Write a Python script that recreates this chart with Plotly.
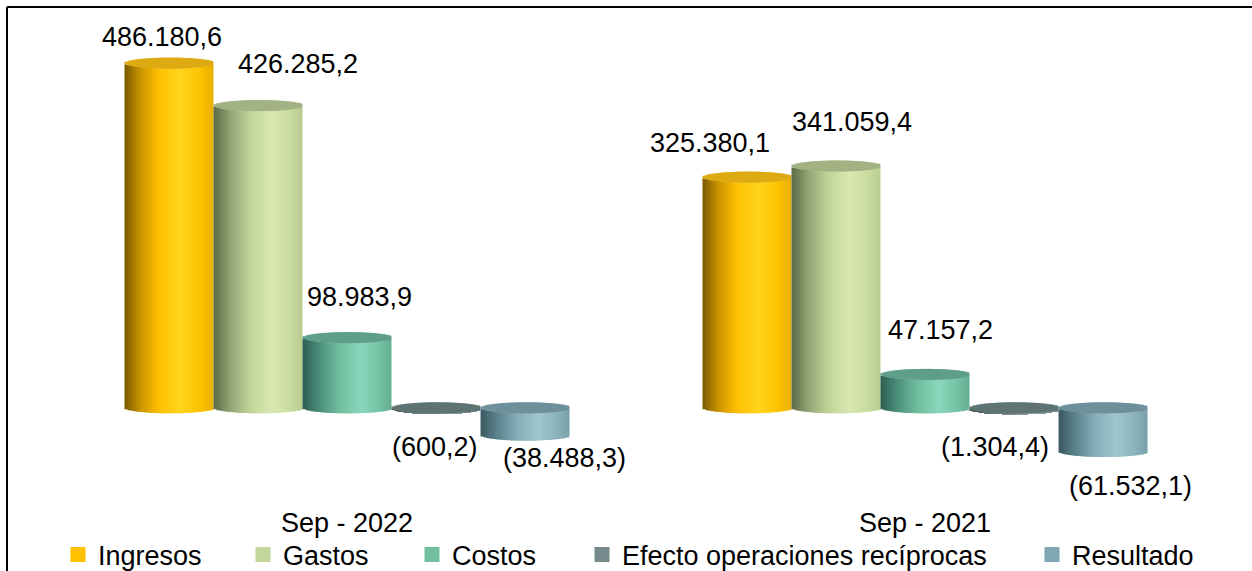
import plotly.graph_objects as go
import numpy as np

# ---------------- data ----------------
categories = ["Sep - 2022", "Sep - 2021"]
series_names = ["Ingresos", "Gastos", "Costos", "Efecto operaciones recíprocas", "Resultado"]
ingresos = [486180.6, 325380.1]
gastos = [426285.2, 341059.4]
costos = [98983.9, 47157.2]
efecto = [-600.2, -1304.4]
resultado = [-38488.3, -61532.1]
series_values = [ingresos, gastos, costos, efecto, resultado]

# ---------------- styling ----------------
W, H = 1252, 571
M_L, M_R, M_T, M_B = 58, 38, 20, 71
Y_RANGE = [-130000, 547000]
PLOT_W = W - M_L - M_R
PLOT_H = H - M_T - M_B
UNITS_PER_PX = (Y_RANGE[1] - Y_RANGE[0]) / PLOT_H
CAP = 5.5 * UNITS_PER_PX          # half height of the cylinder's elliptical top
BAR_W = 0.154                     # width of one cylinder in category units
K = 30                            # shading strips per cylinder
OVERLAP = 1.8                     # strip overlap factor to hide anti-alias seams
FONT = "Liberation Sans, Arial, sans-serif"
FS = 27

legend_colors = ["#FFC000", "#C4D79B", "#72BFA0", "#778A8B", "#7FA8B4"]
cap_colors = ["#DDAA12", "#A3B283", "#5E9E8A", "#5F7373", "#6E909A"]
body_stops = [
    [(0, "#7A5800"), (0.18, "#C99500"), (0.38, "#FFBE00"), (0.62, "#FFD51C"), (0.85, "#FBC400"), (1, "#EAAE00")],
    [(0, "#5C6A46"), (0.2, "#96A777"), (0.42, "#C2D59A"), (0.65, "#D8E8B0"), (0.85, "#CBDCA0"), (1, "#B9CB8E")],
    [(0, "#2E5C50"), (0.2, "#4D927E"), (0.42, "#72BE9F"), (0.65, "#8AD7BC"), (0.85, "#77C4A6"), (1, "#64AE92")],
    [(0, "#3F5050"), (0.3, "#6A7E7E"), (0.65, "#8AA0A0"), (1, "#70868A")],
    [(0, "#3C5760"), (0.2, "#5D8590"), (0.42, "#87AFB9"), (0.65, "#9FC6CF"), (0.85, "#8CB4BD"), (1, "#78A0AA")],
]
# label offsets (px) from each bar's value point: (dx from group centre, dy up)
label_shift = [
    [(-185.5, 26), (-215.5, 34)],
    [(-49.5, 41.5), (-73.5, 44)],
    [(12, 41), (15.5, 44.6)],
    [(88, -38.5), (69.5, -38)],
    [(217, -22.7), (205.5, -34.4)],
]
legend_left_px = [58, 243, 412, 582, 1032]
LEGEND_Y_PX = 555


def hex_to_rgb(h):
    h = h.lstrip("#")
    return np.array([int(h[i:i + 2], 16) for i in (0, 2, 4)], dtype=float)


def interp_color(stops, t):
    for (p0, c0), (p1, c1) in zip(stops[:-1], stops[1:]):
        if p0 <= t <= p1:
            f = (t - p0) / (p1 - p0) if p1 > p0 else 0
            c = hex_to_rgb(c0) * (1 - f) + hex_to_rgb(c1) * f
            return "rgb(%d,%d,%d)" % tuple(np.round(c))
    return "rgb(%d,%d,%d)" % tuple(hex_to_rgb(stops[-1][1]))


def fmt(v):
    s = f"{abs(v):,.1f}".replace(",", "#").replace(".", ",").replace("#", ".")
    return f"({s})" if v < 0 else s


fig = go.Figure()
n_series = len(series_names)
group_start = -BAR_W * n_series / 2

for si, (name, vals) in enumerate(zip(series_names, series_values)):
    xs, offs, widths, body_base, body_len, cap_base, cap_len, colors = [], [], [], [], [], [], [], []
    for ci, cat in enumerate(categories):
        v = vals[ci]
        top = max(0.0, v)
        bottom = min(0.0, v)
        for j in range(K):
            u = -1 + (2 * j + 1) / K
            s = np.sqrt(max(0.0, 1 - u * u))
            xs.append(cat)
            offs.append(group_start + si * BAR_W + j * BAR_W / K)
            widths.append(BAR_W / K * (OVERLAP if j < K - 1 else 1.0))
            body_base.append(bottom - CAP * s)
            body_len.append(top - bottom)
            cap_base.append(top - CAP * s)
            cap_len.append(2 * CAP * s)
            colors.append(interp_color(body_stops[si], (j + 0.5) / K))
    fig.add_trace(go.Bar(x=xs, y=body_len, base=body_base, offset=offs, width=widths,
                         marker=dict(color=colors, line=dict(width=0)),
                         showlegend=False, hoverinfo="skip"))
    fig.add_trace(go.Bar(x=xs, y=cap_len, base=cap_base, offset=offs, width=widths,
                         marker=dict(color=cap_colors[si], line=dict(width=0)),
                         showlegend=False, hoverinfo="skip"))
    # legend entry
    lg = "legend" if si == 0 else f"legend{si + 1}"
    fig.add_trace(go.Scatter(x=[None], y=[None], mode="markers", name=name,
                             marker=dict(symbol="square", size=15, color=legend_colors[si]),
                             legend=lg, showlegend=True))

# data labels
for si, vals in enumerate(series_values):
    for ci, cat in enumerate(categories):
        dx, dy = label_shift[si][ci]
        fig.add_annotation(x=cat, y=vals[ci], xref="x", yref="y", text=fmt(vals[ci]),
                           showarrow=False, xanchor="center", yanchor="middle",
                           xshift=dx, yshift=dy, font=dict(family=FONT, size=FS, color="#000000"))

# frame (left and top lines)
x_left = (7 - M_L) / PLOT_W
x_right = (W + 5 - M_L) / PLOT_W
y_top = 1 + (M_T - 7) / PLOT_H
y_bot = (PLOT_H + M_T - H - 5) / PLOT_H
fig.add_shape(type="line", xref="paper", yref="paper", x0=x_left, x1=x_left, y0=y_bot, y1=y_top,
              line=dict(color="#000000", width=2))
fig.add_shape(type="line", xref="paper", yref="paper", x0=x_left, x1=x_right, y0=y_top, y1=y_top,
              line=dict(color="#000000", width=2))

legend_layout = {}
for si in range(n_series):
    key = "legend" if si == 0 else f"legend{si + 1}"
    legend_layout[key] = dict(
        xref="container", yref="container",
        x=legend_left_px[si] / W, y=1 - LEGEND_Y_PX / H,
        xanchor="left", yanchor="middle", orientation="h",
        bgcolor="rgba(0,0,0,0)", borderwidth=0,
        font=dict(family=FONT, size=FS, color="#000000"),
    )

fig.update_layout(
    width=W, height=H,
    margin=dict(l=M_L, r=M_R, t=M_T, b=M_B, autoexpand=False),
    paper_bgcolor="#FFFFFF", plot_bgcolor="#FFFFFF",
    barmode="overlay",
    font=dict(family=FONT, size=FS, color="#000000"),
    xaxis=dict(type="category", categoryorder="array", categoryarray=categories,
               range=[-0.5, 1.5], showgrid=False, zeroline=False, showline=False,
               ticks="", tickfont=dict(family=FONT, size=FS, color="#000000"),
               ticklabelstandoff=4, fixedrange=True, automargin=False),
    yaxis=dict(range=Y_RANGE, visible=False, showgrid=False, zeroline=False, fixedrange=True,
               automargin=False),
    **legend_layout,
)

fig.write_html("out.html")
